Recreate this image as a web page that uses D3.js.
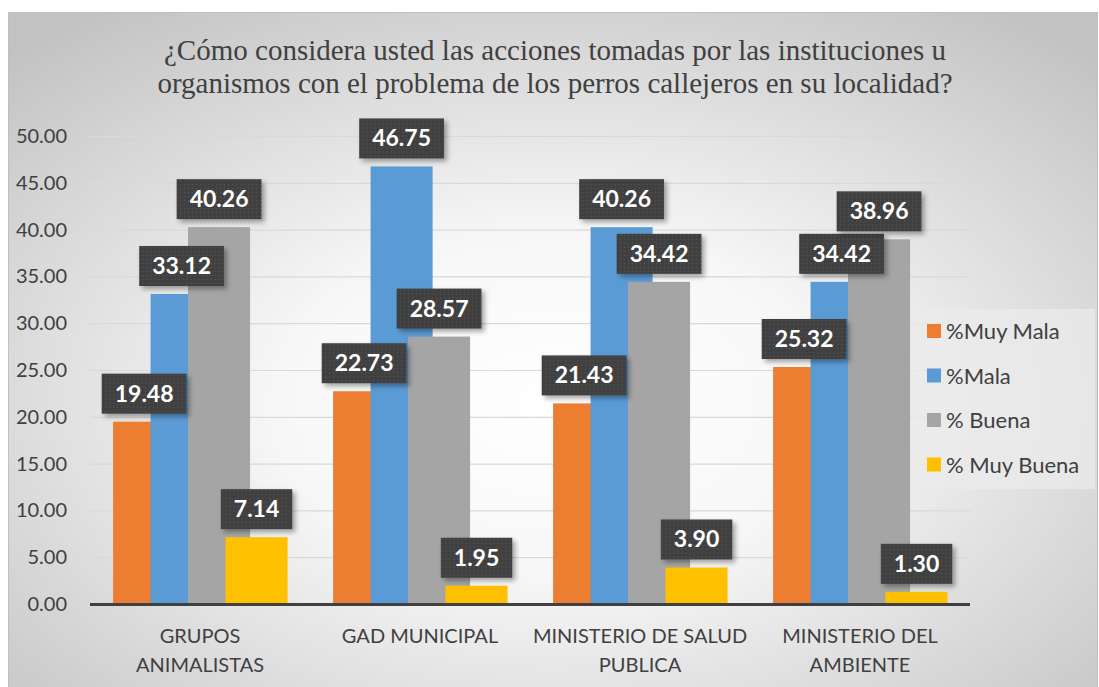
<!DOCTYPE html>
<html>
<head>
<meta charset="utf-8">
<script src="https://cdn.jsdelivr.net/npm/d3@7"></script>
<style>
  body { margin: 0; background: #fff; }
  svg { display: block; }
</style>
</head>
<body>
<script>
// datos
var categories = ["GRUPOS ANIMALISTAS", "GAD MUNICIPAL", "MINISTERIO DE SALUD PUBLICA", "MINISTERIO DEL AMBIENTE"];
var categoryLines = [["GRUPOS", "ANIMALISTAS"], ["GAD MUNICIPAL"], ["MINISTERIO DE SALUD", "PUBLICA"], ["MINISTERIO DEL", "AMBIENTE"]];
var seriesNames = ["%Muy Mala", "%Mala", "% Buena", "% Muy Buena"];
var muyMala = [19.48, 22.73, 21.43, 25.32];
var mala = [33.12, 46.75, 40.26, 34.42];
var buena = [40.26, 28.57, 34.42, 38.96];
var muyBuena = [7.14, 1.95, 3.90, 1.30];
var yTicks = [0, 5, 10, 15, 20, 25, 30, 35, 40, 45, 50];
var titleLines = ["¿Cómo considera usted las acciones tomadas por las instituciones u",
                  "organismos con el problema de los perros callejeros en su localidad?"];

var colors = ["#ED7D31", "#5B9BD5", "#A5A5A5", "#FFC000"];
var seriesValues = [muyMala, mala, buena, muyBuena];

var W = 1099, H = 687;
var plot = { left: 90, right: 970, top: 136, bottom: 604 };
var FONT = "Lato, 'Open Sans', sans-serif";

var svg = d3.select("body").append("svg").attr("width", W).attr("height", H);
var defs = svg.append("defs");

var grad = defs.append("radialGradient").attr("id", "bg")
  .attr("cx", "50%").attr("cy", "58%").attr("r", "72%");
grad.append("stop").attr("offset", "0%").attr("stop-color", "#ffffff");
grad.append("stop").attr("offset", "35%").attr("stop-color", "#f7f7f7");
grad.append("stop").attr("offset", "100%").attr("stop-color", "#c2c2c2");

var pat = defs.append("pattern").attr("id", "dots").attr("patternUnits", "userSpaceOnUse")
  .attr("width", 4).attr("height", 4);
pat.append("rect").attr("width", 4).attr("height", 4).attr("fill", "#404040");
pat.append("rect").attr("x", 1).attr("y", 1).attr("width", 1).attr("height", 1).attr("fill", "#5a5a5a");

var shadow = defs.append("filter").attr("id", "shadow").attr("x", "-20%").attr("y", "-20%").attr("width", "150%").attr("height", "160%");
shadow.append("feDropShadow").attr("dx", 3).attr("dy", 3).attr("stdDeviation", 2.5)
  .attr("flood-color", "#000").attr("flood-opacity", 0.35);

// fondo del gráfico
svg.append("rect").attr("x", 8.5).attr("y", 12.5).attr("width", W - 10).attr("height", H - 12)
  .attr("fill", "url(#bg)").attr("stroke", "#bfbfbf").attr("stroke-width", 1);

// título
svg.append("g").selectAll("text").data(titleLines).enter().append("text")
  .attr("x", 555).attr("y", function (d, i) { return 60 + i * 33; })
  .attr("text-anchor", "middle")
  .style("font-family", "'Liberation Serif', 'Times New Roman', serif")
  .style("font-size", "29px").attr("fill", "#404040")
  .text(function (d) { return d; });

var x = d3.scaleBand().domain(categories).range([plot.left, plot.right]);
var bw = x.bandwidth();
var sub = d3.scaleLinear().domain([0, 3]).range([bw * 0.105, bw * 0.616]);
var barW = bw * 0.282;
var y = d3.scaleLinear().domain([0, 50]).range([plot.bottom, plot.top]);

// líneas de cuadrícula
var grid = svg.append("g").attr("transform", "translate(" + plot.left + ",0)")
  .call(d3.axisLeft(y).tickValues(yTicks).tickSize(-(plot.right - plot.left)).tickFormat(""));
grid.select(".domain").remove();
grid.selectAll("line").attr("stroke", "#d9d9d9").attr("stroke-width", 1.2);

// eje Y
var yAxis = svg.append("g").attr("transform", "translate(67,0)")
  .call(d3.axisLeft(y).tickValues(yTicks).tickSize(0).tickPadding(0).tickFormat(d3.format(".2f")));
yAxis.select(".domain").remove();
yAxis.selectAll("text").style("font-family", FONT).style("font-size", "20px").attr("fill", "#404040");

// barras
var rows = [];
categories.forEach(function (c, ci) {
  seriesValues.forEach(function (vals, si) {
    rows.push({ cat: c, s: si, v: vals[ci] });
  });
});

svg.append("g").selectAll("rect").data(rows).enter().append("rect")
  .attr("x", function (d) { return x(d.cat) + sub(d.s); })
  .attr("y", function (d) { return y(d.v); })
  .attr("width", barW)
  .attr("height", function (d) { return y(0) - y(d.v); })
  .attr("fill", function (d) { return colors[d.s]; });

// eje X
svg.append("line").attr("x1", plot.left).attr("x2", plot.right)
  .attr("y1", plot.bottom + 0.5).attr("y2", plot.bottom + 0.5)
  .attr("stroke", "#404040").attr("stroke-width", 3);

var xAxis = svg.append("g").attr("transform", "translate(0," + plot.bottom + ")")
  .call(d3.axisBottom(x).tickSize(0).tickFormat(""));
xAxis.select(".domain").remove();
xAxis.selectAll(".tick").each(function (d, i) {
  var t = d3.select(this).append("text")
    .style("font-family", FONT).style("font-size", "20px").attr("fill", "#404040")
    .attr("text-anchor", "middle");
  categoryLines[i].forEach(function (line, li) {
    t.append("tspan").attr("x", 0).attr("y", 39 + li * 29).text(line);
  });
});

// etiquetas de datos
var labels = svg.append("g").selectAll("g").data(rows).enter().append("g")
  .attr("transform", function (d) {
    return "translate(" + (x(d.cat) + sub(d.s) + barW / 2) + "," + (y(d.v) - 8) + ")";
  });
labels.each(function (d) {
  var g = d3.select(this);
  var r = g.append("rect").attr("fill", "url(#dots)").attr("filter", "url(#shadow)");
  var t = g.append("text").attr("text-anchor", "middle").attr("y", -12)
    .style("font-family", FONT).style("font-size", "23px").style("font-weight", "bold")
    .attr("fill", "#fff").text(d3.format(".2f")(d.v));
  var tw = t.node().getComputedTextLength();
  var bwid = tw + 26;
  r.attr("x", -bwid / 2).attr("y", -40).attr("width", bwid).attr("height", 40);
});

// leyenda
var legend = svg.append("g").attr("transform", "translate(911,309)");
legend.append("rect").attr("width", 184).attr("height", 180).attr("fill", "#ebebeb").attr("opacity", 0.75);
var li = legend.selectAll("g").data(seriesNames).enter().append("g")
  .attr("transform", function (d, i) { return "translate(16," + (22 + i * 44.5) + ")"; });
li.append("rect").attr("x", 0).attr("y", -7).attr("width", 14).attr("height", 14)
  .attr("fill", function (d, i) { return colors[i]; });
li.append("text").attr("x", 19).attr("y", 8)
  .style("font-family", FONT).style("font-size", "22px").attr("fill", "#404040")
  .text(function (d) { return d; });
</script>
</body>
</html>
